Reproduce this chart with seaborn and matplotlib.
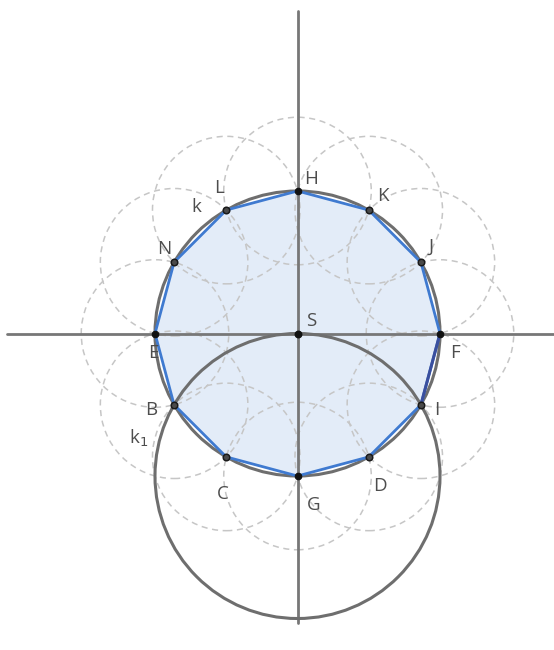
import numpy as np
import pandas as pd
import matplotlib.pyplot as plt
import seaborn as sns
from matplotlib.patches import Circle, Polygon

# Regular dodecagon inscribed in circle k (centre S, radius 1)
VERTEX_LABELS = ['H', 'K', 'J', 'F', 'I', 'D', 'G', 'C', 'B', 'E', 'N', 'L']
VERTEX_ANGLES = [90, 60, 30, 0, -30, -60, -90, -120, -150, 180, 150, 120]
RADIUS = 1.0
CENTER_LABEL = 'S'
CIRCLE_LABELS = ['k', 'k$_1$']

PX = 142.5  # pixels per unit

sns.set_style("white")
plt.rcParams['font.family'] = ['Open Sans', 'DejaVu Sans']

ang = np.radians(VERTEX_ANGLES)
pts = pd.DataFrame({
    'label': VERTEX_LABELS,
    'x': RADIUS * np.cos(ang),
    'y': RADIUS * np.sin(ang),
})
pts['on_axis'] = pts['label'].isin(['H', 'F', 'G', 'E'])
side = 2 * RADIUS * np.sin(np.radians(15))

fig = plt.figure(figsize=(5.54, 6.5), dpi=100)
ax = fig.add_axes([0, 0, 1, 1])
ax.set_xlim(-297.5 / PX, (554 - 297.5) / PX)
ax.set_ylim(-(650 - 333.5) / PX, 333.5 / PX)
ax.set_aspect('equal')
ax.axis('off')

# dashed helper circles centred at each vertex, radius = side length
for _, r in pts.iterrows():
    ax.add_patch(Circle((r.x, r.y), side, fill=False, ec='#c6c6c6', lw=1.1,
                        ls=(0, (4, 3)), zorder=1))

# coordinate axes
ax.plot([0, 0], [333.5 / PX - 11 / PX, -(623 - 333.5) / PX], color='#777777', lw=2, zorder=2)
ax.plot([-(297.5 - 7) / PX, 300 / PX], [0, 0], color='#777777', lw=2, zorder=2)

# polygon
poly = Polygon(pts[['x', 'y']].values, closed=True, fc='#e3ecf8', ec='none', zorder=0.5)
ax.add_patch(poly)

# circle k and k1 (centre G)
ax.add_patch(Circle((0, 0), RADIUS, fill=False, ec='#6e6e6e', lw=2.2, zorder=3))
g = pts[pts.label == 'G'].iloc[0]
ax.add_patch(Circle((g.x, g.y), RADIUS, fill=False, ec='#6e6e6e', lw=2.2, zorder=3))

# polygon edges
closed = pd.concat([pts, pts.iloc[:1]], ignore_index=True)
ax.plot(closed.x, closed.y, color='#3f7ad0', lw=2, zorder=4)
fi = pts[pts.label.isin(['F', 'I'])]
ax.plot(fi.x, fi.y, color='#3a4f9e', lw=2.2, zorder=4.5)

# vertices and centre
sns.scatterplot(data=pts[pts.on_axis], x='x', y='y', s=22, color='#111111',
                edgecolor='#111111', linewidth=0.8, zorder=6, ax=ax, legend=False)
sns.scatterplot(data=pts[~pts.on_axis], x='x', y='y', s=22, color='#4a4a4a',
                edgecolor='#1a1a1a', linewidth=1.1, zorder=6, ax=ax, legend=False)
ax.scatter([0], [0], s=22, color='#111111', zorder=6)
ax.set_xlabel('')
ax.set_ylabel('')

# labels (pixel offsets from their anchor)
offsets = {
    'H': (14, -12), 'K': (14, -14), 'J': (10, -15), 'F': (15, 19), 'I': (16, 5),
    'D': (11, 29), 'G': (16, 29), 'C': (-3, 37), 'B': (-23, 5), 'E': (-2, 19),
    'N': (-10, -13), 'L': (-7, -22),
}
txt = dict(fontsize=13.5, color='#4d4d4d', ha='center', va='center', zorder=7)
for _, r in pts.iterrows():
    dx, dy = offsets[r.label]
    ax.text(r.x + dx / PX, r.y - dy / PX, r.label, **txt)
ax.text(14 / PX, 13 / PX, CENTER_LABEL, **txt)
ax.text((196 - 297.5) / PX, (333.5 - 207) / PX, CIRCLE_LABELS[0], **txt)
ax.text((139 - 297.5) / PX, (333.5 - 438) / PX, CIRCLE_LABELS[1], **txt)

fig.savefig('out.png', dpi=100)
